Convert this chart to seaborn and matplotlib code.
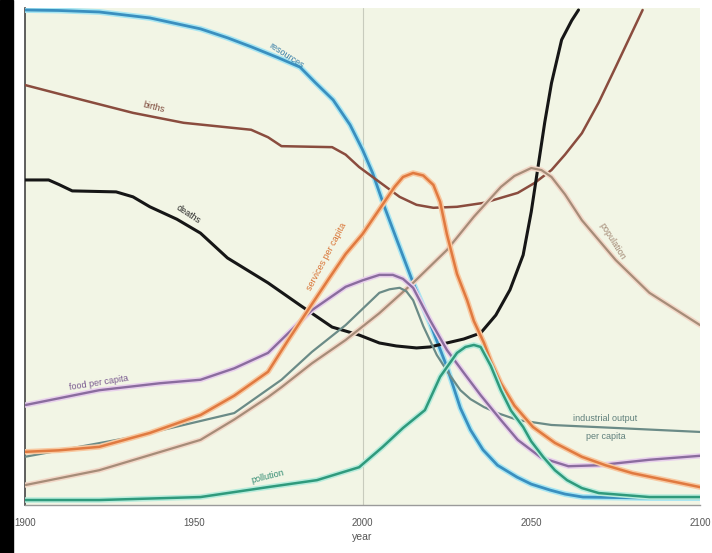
import matplotlib
matplotlib.use("Agg")
import matplotlib.pyplot as plt
import matplotlib.patheffects as pe
import seaborn as sns
import pandas as pd

# values (relative scale, 0 = bottom axis, 1 = top of panel)
resources_years = [1900, 1910, 1922, 1937, 1952, 1960, 1967, 1975, 1981.5, 1986, 1991.3, 1996.3, 2000,
                   2003, 2006.5, 2010.2, 2015, 2020, 2025, 2029, 2032, 2035.7, 2040, 2045.8, 2050,
                   2055.6, 2060, 2065.3, 2085, 2100]
resources = [0.996, 0.995, 0.992, 0.980, 0.958, 0.940, 0.922, 0.900, 0.881, 0.850, 0.815, 0.765, 0.715,
             0.668, 0.600, 0.533, 0.447, 0.366, 0.278, 0.195, 0.151, 0.111, 0.080, 0.056, 0.042,
             0.030, 0.022, 0.016, 0.014, 0.014]

births_years = [1900, 1917, 1932, 1947, 1967, 1972, 1976, 1991, 1995, 1999, 2005, 2011, 2016, 2021,
                2028, 2036, 2041, 2046, 2051, 2056, 2060, 2065, 2070, 2075, 2083]
births = [0.845, 0.815, 0.789, 0.769, 0.755, 0.740, 0.722, 0.720, 0.705, 0.680, 0.650, 0.620, 0.604,
          0.598, 0.600, 0.608, 0.618, 0.628, 0.648, 0.674, 0.705, 0.748, 0.810, 0.881, 0.996]

deaths_years = [1900, 1907, 1910, 1914, 1927, 1932, 1937, 1945, 1952, 1960, 1966, 1972, 1981.5,
                1991, 1999, 2005, 2010, 2016, 2020, 2025, 2030, 2035, 2039.5, 2043.7, 2047.6,
                2050, 2052, 2054, 2056, 2059, 2062, 2064]
deaths = [0.654, 0.654, 0.645, 0.632, 0.630, 0.620, 0.600, 0.575, 0.547, 0.497, 0.472, 0.447, 0.402,
          0.358, 0.342, 0.326, 0.320, 0.316, 0.318, 0.326, 0.334, 0.346, 0.382, 0.433, 0.503,
          0.590, 0.680, 0.770, 0.849, 0.936, 0.975, 0.996]

services_years = [1900, 1910, 1922, 1937, 1952, 1962, 1972, 1978, 1985, 1990, 1995, 2000, 2006,
                  2009.5, 2012, 2015, 2018, 2021, 2023, 2025, 2028, 2031, 2033, 2036, 2038, 2041,
                  2045, 2050.5, 2057, 2065, 2072, 2080, 2090, 2100]
services = [0.107, 0.110, 0.117, 0.145, 0.181, 0.220, 0.268, 0.332, 0.404, 0.455, 0.505, 0.545, 0.605,
            0.640, 0.660, 0.668, 0.663, 0.644, 0.610, 0.545, 0.465, 0.412, 0.370, 0.326, 0.290, 0.245,
            0.200, 0.157, 0.125, 0.097, 0.080, 0.064, 0.050, 0.036]

food_years = [1900, 1922, 1940, 1952, 1962, 1972, 1985, 1995, 2000, 2005, 2009, 2012, 2015, 2020,
              2025, 2030, 2035, 2041, 2046, 2053, 2061, 2070, 2085, 2100]
food = [0.201, 0.231, 0.245, 0.252, 0.275, 0.306, 0.392, 0.439, 0.452, 0.463, 0.463, 0.455, 0.437,
        0.372, 0.312, 0.266, 0.221, 0.171, 0.131, 0.095, 0.078, 0.080, 0.091, 0.099]

industry_years = [1900, 1932, 1962, 1976, 1985, 1995, 2005, 2008, 2011, 2013, 2015, 2018, 2022,
                  2025.5, 2029, 2032, 2036, 2040, 2046, 2056, 2075, 2100]
industry = [0.097, 0.137, 0.185, 0.252, 0.308, 0.362, 0.427, 0.434, 0.437, 0.430, 0.412, 0.360, 0.302,
            0.265, 0.231, 0.213, 0.197, 0.185, 0.171, 0.161, 0.155, 0.147]

population_years = [1900, 1922, 1952, 1962, 1972, 1976, 1985, 1995, 2005, 2015, 2025, 2033, 2041,
                    2045, 2050, 2053, 2056, 2060, 2065, 2075, 2085, 2100]
population = [0.040, 0.070, 0.131, 0.172, 0.217, 0.237, 0.285, 0.332, 0.386, 0.447, 0.513, 0.580,
              0.640, 0.662, 0.678, 0.674, 0.660, 0.625, 0.573, 0.493, 0.427, 0.362]

pollution_years = [1900, 1922, 1952, 1972, 1986.5, 1999, 2006, 2012, 2018.5, 2023, 2028, 2030.5,
                   2033, 2035, 2038, 2041, 2044, 2047.6, 2050, 2053.5, 2057, 2060.6, 2065, 2070,
                   2085, 2100]
pollution = [0.010, 0.010, 0.016, 0.036, 0.050, 0.076, 0.117, 0.155, 0.191, 0.258, 0.306, 0.318,
             0.322, 0.318, 0.280, 0.231, 0.190, 0.157, 0.128, 0.097, 0.070, 0.050, 0.034, 0.024,
             0.016, 0.016]

x_ticks = [1900, 1950, 2000, 2050, 2100]

series = [
    # name, years, values, colour, halo colour, width
    ("resources", resources_years, resources, "#3a8fbf", "#a8e6f2", 2.0),
    ("births", births_years, births, "#8a4c3e", None, 1.8),
    ("deaths", deaths_years, deaths, "#161616", None, 2.2),
    ("population", population_years, population, "#a68c78", "#f2d8c8", 1.6),
    ("industrial output per capita", industry_years, industry, "#6b8b87", None, 1.6),
    ("food per capita", food_years, food, "#8a6c9e", "#e8d0ec", 1.7),
    ("services per capita", services_years, services, "#e07a40", "#f8c8a0", 1.8),
    ("pollution", pollution_years, pollution, "#2f9a7c", "#b8ecdc", 1.8),
]

sns.set_style("white")
plt.rcParams["font.family"] = ["Liberation Sans", "DejaVu Sans"]

fig = plt.figure(figsize=(7.12, 5.53), dpi=100)
ax = fig.add_axes([25 / 712, 48 / 553, 675 / 712, 497 / 553])
ax.set_facecolor("#f2f5e5")

# black strip on the left edge of the frame
fig.patches.append(plt.Rectangle((0, 0), 13 / 712, 1, transform=fig.transFigure,
                                 color="black", zorder=0))

ax.axvline(2000, color="#c8cbbd", lw=0.8, zorder=1)

for name, yrs, vals, col, halo, lw in series:
    df = pd.DataFrame({"year": yrs, "value": vals})
    effects = [pe.Stroke(linewidth=lw + 2.2, foreground=halo), pe.Normal()] if halo else None
    sns.lineplot(data=df, x="year", y="value", ax=ax, color=col, lw=lw, sort=False,
                 estimator=None, path_effects=effects, zorder=3)

ax.set_xlim(1900, 2100)
ax.set_ylim(0, 1)
ax.set_xticks(x_ticks)
ax.set_xticklabels([str(t) for t in x_ticks], fontsize=7, color="#555555")
ax.set_yticks([])
ax.set_ylabel("")
ax.set_xlabel("year", fontsize=7.5, color="#555555", labelpad=3)
ax.tick_params(axis="x", length=5, width=0.8, color="#888888", pad=4)

for s in ["top", "right"]:
    ax.spines[s].set_visible(False)
ax.spines["left"].set_color("#444444")
ax.spines["left"].set_linewidth(1.2)
ax.spines["bottom"].set_color("#9a9a9a")
ax.spines["bottom"].set_linewidth(1.0)

lab = dict(fontsize=6.5, ha="center", va="center", zorder=5)
ax.text(1977.5, 0.905, "resources", color="#3a7fa8", rotation=-33, **lab)
ax.text(1938, 0.80, "births", color="#7a4436", rotation=-14, **lab)
ax.text(1948.5, 0.585, "deaths", color="#222222", rotation=-33, **lab)
ax.text(1989.5, 0.50, "services per capita", color="#d87030", rotation=62, **lab)
ax.text(1922, 0.245, "food per capita", color="#7a5a90", rotation=9, **lab)
ax.text(2074, 0.53, "population", color="#a08672", rotation=-58, **lab)
ax.text(2072, 0.174, "industrial output", color="#5f7f7b", rotation=0, **lab)
ax.text(2072, 0.138, "per capita", color="#5f7f7b", rotation=0, **lab)
ax.text(1972, 0.058, "pollution", color="#2f8a70", rotation=14, **lab)

fig.savefig("out.png", dpi=100, facecolor="white")
